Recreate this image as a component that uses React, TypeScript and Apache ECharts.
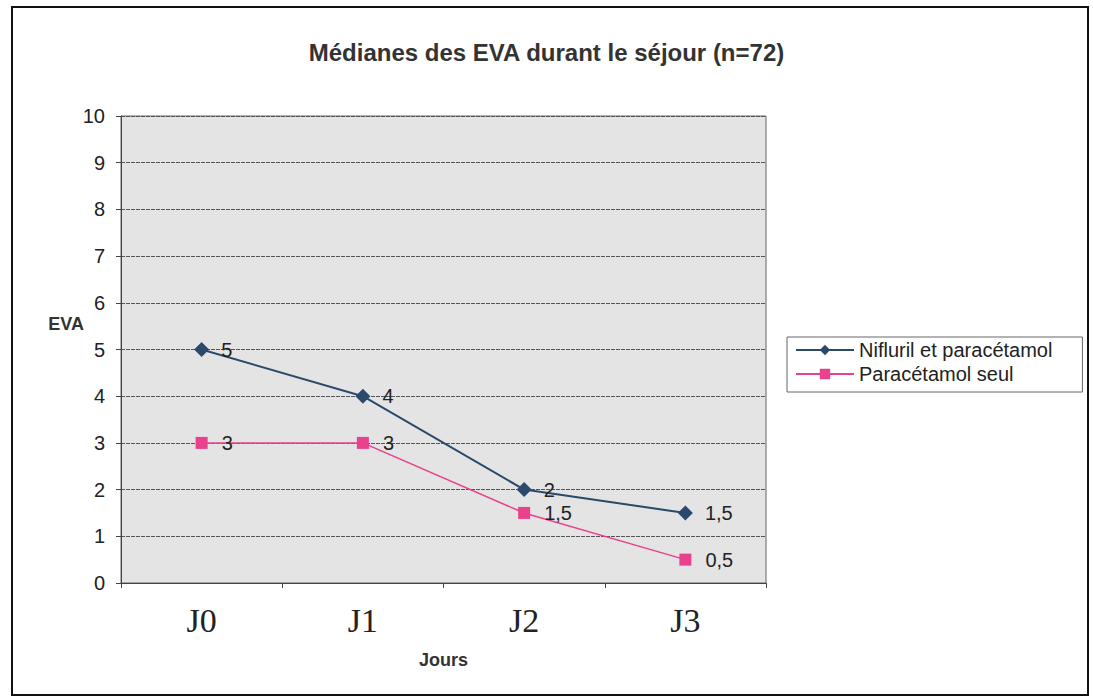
import React, { useEffect, useRef } from "react";
import * as echarts from "echarts";

const categories = ["J0", "J1", "J2", "J3"];
const niflurilValues = [5, 4, 2, 1.5];
const paracetamolValues = [3, 3, 1.5, 0.5];
const seriesNames = ["Nifluril et paracétamol", "Paracétamol seul"];
const titleText = "Médianes des EVA durant le séjour (n=72)";
const yAxisName = "EVA";
const xAxisName = "Jours";

const SANS = "'Liberation Sans', Arial, sans-serif";
const SERIF = "'Liberation Serif', 'Times New Roman', serif";

export default function App() {
  const ref = useRef<HTMLDivElement>(null);
  useEffect(() => {
    document.body.style.margin = "0";
    const chart = echarts.init(ref.current!, null, { renderer: "svg" });
    const fmt = (p: any) => String(p.value).replace(".", ",");
    chart.setOption({
      animation: false,
      backgroundColor: "#ffffff",
      title: {
        text: titleText,
        left: "center",
        top: 35,
        textStyle: { fontFamily: SANS, fontSize: 24, fontWeight: "bold", color: "#333" },
      },
      legend: {
        orient: "vertical",
        left: 787,
        top: 337,
        itemWidth: 58,
        itemHeight: 13,
        itemGap: 4,
        padding: [3, 30, 8, 8],
        borderColor: "#666",
        borderWidth: 1,
        textStyle: { fontFamily: SANS, fontSize: 20, color: "#222" },
        data: seriesNames,
      },
      grid: {
        left: 121,
        top: 116,
        width: 645,
        height: 467,
        show: true,
        backgroundColor: "#e4e4e4",
        borderColor: "#666",
        borderWidth: 1,
      },
      xAxis: {
        type: "category",
        data: categories,
        boundaryGap: true,
        name: xAxisName,
        nameLocation: "middle",
        nameGap: 68,
        nameTextStyle: { fontFamily: SANS, fontSize: 18, fontWeight: "bold", color: "#333" },
        axisLine: { lineStyle: { color: "#444", width: 1 } },
        axisTick: { show: true, length: 5, inside: false, lineStyle: { color: "#444" } },
        axisLabel: { fontFamily: SERIF, fontSize: 34, color: "#222", margin: 20 },
        splitLine: { show: false },
      },
      yAxis: {
        type: "value",
        min: 0,
        max: 10,
        interval: 1,
        axisLine: { show: true, lineStyle: { color: "#444", width: 1 } },
        axisTick: { show: true, length: 5, lineStyle: { color: "#444" } },
        axisLabel: { fontFamily: SANS, fontSize: 20, color: "#222", margin: 16 },
        splitLine: { show: true, lineStyle: { color: "#555", width: 1, type: [4, 1] } },
      },
      series: [
        {
          name: seriesNames[0],
          type: "line",
          data: niflurilValues,
          symbol: "diamond",
          symbolSize: 15,
          itemStyle: { color: "#2b4a6b" },
          lineStyle: { color: "#2b4a6b", width: 2 },
          label: {
            show: true,
            position: "right",
            distance: 12,
            formatter: fmt,
            fontFamily: SANS,
            fontSize: 20,
            color: "#222",
          },
        },
        {
          name: seriesNames[1],
          type: "line",
          data: paracetamolValues,
          symbol: "rect",
          symbolSize: 12,
          itemStyle: { color: "#e8428c" },
          lineStyle: { color: "#e8428c", width: 1.5 },
          label: {
            show: true,
            position: "right",
            distance: 14,
            formatter: fmt,
            fontFamily: SANS,
            fontSize: 20,
            color: "#222",
          },
        },
      ],
      graphic: [
        {
          type: "text",
          x: 84,
          y: 324,
          style: {
            text: yAxisName,
            align: "right",
            verticalAlign: "middle",
            fontFamily: SANS,
            fontSize: 18,
            fontWeight: "bold",
            fill: "#333",
          },
          silent: true,
        },
        {
          type: "rect",
          shape: { x: 12, y: 7, width: 1076, height: 688 },
          style: { fill: "none", stroke: "#111", lineWidth: 2 },
          silent: true,
        },
      ],
    });
    return () => chart.dispose();
  }, []);
  return (
    <div
      ref={ref}
      style={{ position: "absolute", left: 0, top: 0, width: 1093, height: 700 }}
    />
  );
}
